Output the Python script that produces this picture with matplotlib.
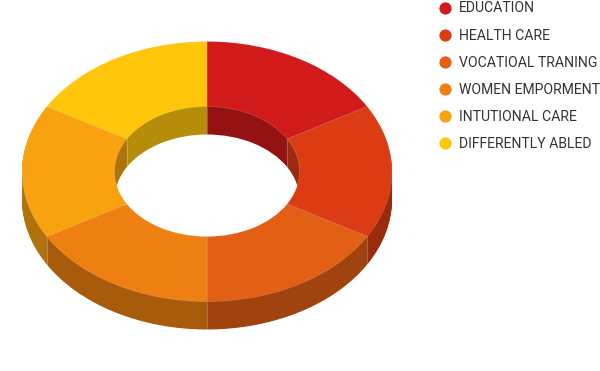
import numpy as np
import matplotlib
matplotlib.use('Agg')
import matplotlib.pyplot as plt
from matplotlib.colors import to_rgb
from matplotlib.lines import Line2D

labels = ['EDUCATION', 'HEALTH CARE', 'VOCATIOAL TRANING', 'WOMEN EMPORMENT',
          'INTUTIONAL CARE', 'DIFFERENTLY ABLED']
values = [1, 1, 1, 1, 1, 1]
colors = ['#D01B1A', '#DB3C14', '#E25F15', '#EE8011', '#F8A20F', '#FFC60B']

W, H = 600, 371
CX, CY = 207, 171.5     # centre of the top face, px
RX, RY = 185.0, 130.0   # outer radii, px
HOLE = 0.5
DEPTH = 28

plt.rcParams['font.family'] = ['Roboto', 'DejaVu Sans']

fig = plt.figure(figsize=(W / 100, H / 100), dpi=100)
ax = fig.add_axes([0, 0, 1, 1])

dark = [tuple(c * 0.71 for c in to_rgb(k)) for k in colors]

# side walls: stack of darker rings going up to the top face
for d in range(DEPTH, 0, -1):
    ax.pie(values, colors=dark, startangle=90, counterclock=False,
           center=(0, -d / RY), radius=1,
           wedgeprops=dict(width=1 - HOLE, linewidth=0))

# seams on the visible part of the walls
edges = np.cumsum([0] + values[:-1]) / sum(values) * 2 * np.pi
for a in edges:
    r = 1 if np.cos(a) < -1e-6 else HOLE
    if abs(np.cos(a)) > 1e-6:
        ax.plot([r * np.sin(a)] * 2, [r * np.cos(a), r * np.cos(a) - DEPTH / RY],
                color='white', alpha=0.25, lw=0.7, solid_capstyle='butt')

ax.pie(values, colors=colors, startangle=90, counterclock=False,
       center=(0, 0), radius=1,
       wedgeprops=dict(width=1 - HOLE, linewidth=0.5, edgecolor=(1, 1, 1, 0.2)))

ax.set_aspect('auto')
ax.set_xlim(-CX / RX, (W - CX) / RX)
ax.set_ylim((CY - H) / RY, CY / RY)
ax.axis('off')

handles = [Line2D([], [], linestyle='none', marker='o', markersize=8.8,
                  markerfacecolor=c, markeredgewidth=0) for c in colors]
fig.legend(handles, labels, loc='upper left', bbox_to_anchor=(437 / W, 1 - 1.5 / H),
           frameon=False, fontsize=10.1, labelcolor='#333333', borderpad=0,
           borderaxespad=0, labelspacing=0.93, handlelength=1.19, handletextpad=0.39)

fig.savefig('out.png', dpi=100)
